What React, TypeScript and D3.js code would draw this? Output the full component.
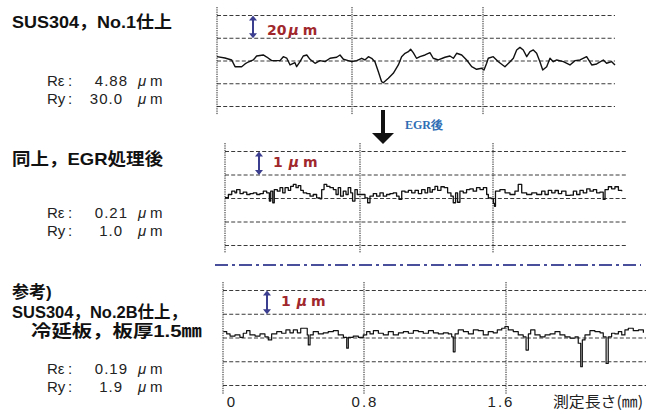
import React from "react";
import * as d3 from "d3";

// ---------- data ----------
const xTicks = [0, 0.8, 1.6];
const xTickLabels = ["0", "0.8", "1.6"];
const xAxisTitle = "測定長さ(㎜)";

const titles1 = ["SUS304，No.1仕上"];
const titles2 = ["同上，EGR処理後"];
const titles3 = ["参考)", "SUS304，No.2B仕上，", "冷延板，板厚1.5㎜"];

const raValues = ["4.88", "0.21", "0.19"];
const ryValues = ["30.0", "1.0", "1.9"];
const scaleSteps = [20, 1, 1];
const scaleLabels = ["20", "1", "1"];

// profile: [position mm, height µm]
const profile1: [number, number][] = [
  [0, 3.8], [0.047, 2.6], [0.087, 0.9], [0.107, -5.0], [0.146, -5.0], [0.166, -2.6], [0.185, -0.9],
  [0.215, 0.9], [0.235, 4.4], [0.274, 5.3], [0.295, 3.5], [0.324, 0.3], [0.373, 0.3], [0.393, 3.8],
  [0.413, 2.6], [0.433, -3.5], [0.462, -1.5], [0.472, -5.0], [0.492, -0.6], [0.511, 4.4], [0.532, 5.3],
  [0.551, 1.5], [0.581, -2.0], [0.61, 0.3], [0.64, -0.6], [0.67, 2.4], [0.709, 3.3], [0.729, 5.3],
  [0.749, 1.5], [0.778, 0.3], [0.798, -0.6], [0.829, 0.3], [0.859, 2.4], [0.879, 0.9], [0.9, 3.8],
  [0.92, 2.4], [0.94, -0.6], [0.961, -9.4], [0.981, -18.2], [0.991, -19.1], [1.022, -15.2],
  [1.052, -10.8], [1.083, -3.5], [1.103, 3.8], [1.124, 6.8], [1.144, 8.2], [1.158, 10.3], [1.174, 7.3],
  [1.194, 2.4], [1.215, 3.8], [1.246, 5.3], [1.276, 7.3], [1.296, 2.4], [1.327, 0.9], [1.368, 3.3],
  [1.398, 4.4], [1.419, 2.4], [1.439, 6.8], [1.47, 5.3], [1.5, 0.9], [1.531, -5.0], [1.561, -7.3],
  [1.592, -6.4], [1.606, -7.9], [1.622, -2.0], [1.632, 2.4], [1.662, 3.8], [1.693, -0.6], [1.733, -5.0],
  [1.764, -0.6], [1.784, 2.4], [1.804, 9.7], [1.824, 12.0], [1.844, 9.7], [1.865, 3.8], [1.885, 8.2],
  [1.905, 9.7], [1.925, 6.8], [1.945, -0.6], [1.962, -7.9], [1.986, -5.0], [2.006, 2.4], [2.026, -0.6],
  [2.047, 0.9], [2.087, -0.6], [2.127, -3.5], [2.158, 0.3], [2.188, 0.9], [2.228, 3.8], [2.259, -3.5],
  [2.289, -2.6], [2.329, 0.9], [2.349, -2.0], [2.38, -0.6], [2.4, -3.5],
];

const profile2: [number, number][] = [
  [0, 0.04], [0.02, 0.17], [0.04, 0.31], [0.059, 0.24], [0.069, 0.38], [0.089, 0.21], [0.108, 0.27],
  [0.129, 0.17], [0.148, 0.21], [0.168, 0.24], [0.188, 0.17], [0.207, 0.21], [0.227, 0.31], [0.247, 0.24],
  [0.263, -0.11], [0.271, 0.31], [0.283, -0.18], [0.292, 0.38], [0.31, 0.31], [0.326, 0.46], [0.342, 0.24],
  [0.356, 0.46], [0.375, 0.35], [0.389, 0.52], [0.405, 0.6], [0.421, 0.46], [0.434, 0.55], [0.449, 0.35],
  [0.464, 0.24], [0.484, 0.21], [0.504, 0.1], [0.523, 0.17], [0.543, 0.03], [0.563, -0.01], [0.573, 0.38],
  [0.587, 0.6], [0.603, 0.52], [0.622, 0.46], [0.642, 0.38], [0.658, 0.17], [0.671, 0.46], [0.685, 0.1],
  [0.701, 0.31], [0.717, 0.17], [0.73, 0.46], [0.745, 0.24], [0.756, -0.11], [0.77, 0.38], [0.784, 0.17],
  [0.8, 0.17], [0.81, 0.17], [0.83, 0.03], [0.846, -0.18], [0.86, 0.1], [0.88, 0.21], [0.9, 0.1],
  [0.92, 0.24], [0.94, 0.1], [0.96, 0.17], [0.98, 0.21], [1.0, 0.24], [1.02, 0.1], [1.035, -0.04],
  [1.051, 0.31], [1.071, 0.27], [1.091, 0.35], [1.111, 0.24], [1.131, 0.35], [1.151, 0.21], [1.171, 0.38],
  [1.191, 0.24], [1.207, 0.46], [1.221, 0.27], [1.235, 0.38], [1.251, 0.52], [1.267, 0.35], [1.287, 0.5],
  [1.307, 0.46], [1.327, 0.24], [1.347, 0.1], [1.361, -0.18], [1.375, 0.24], [1.387, -0.16], [1.401, 0.31],
  [1.421, 0.24], [1.441, 0.38], [1.461, 0.41], [1.481, 0.31], [1.501, 0.46], [1.522, 0.38], [1.542, 0.46],
  [1.562, 0.17], [1.572, 0.03], [1.588, 0.0], [1.602, -0.21], [1.609, -0.33], [1.615, 0.31], [1.642, 0.38],
  [1.673, 0.24], [1.703, 0.17], [1.733, 0.31], [1.753, 0.6], [1.774, 0.24], [1.804, 0.17], [1.835, 0.24],
  [1.865, 0.17], [1.895, 0.31], [1.915, 0.17], [1.935, 0.35], [1.956, 0.24], [1.976, 0.34], [1.996, 0.21],
  [2.016, 0.31], [2.042, 0.13], [2.067, 0.14], [2.087, 0.31], [2.107, 0.17], [2.127, 0.35], [2.147, 0.24],
  [2.168, 0.41], [2.188, 0.31], [2.208, 0.38], [2.228, 0.24], [2.248, 0.27], [2.268, -0.04], [2.279, 0.38],
  [2.299, 0.5], [2.319, 0.41], [2.339, 0.5], [2.36, 0.35], [2.38, 0.31],
];

const profile3: [number, number][] = [
  [0.002, 0.27], [0.021, 0.17], [0.04, 0.08], [0.068, 0.13], [0.096, 0.03], [0.115, 0.2], [0.134, 0.31],
  [0.153, 0.13], [0.182, 0.08], [0.21, 0.17], [0.238, 0.05], [0.257, -0.08], [0.276, 0.17], [0.305, 0.27],
  [0.333, 0.2], [0.357, 0.34], [0.38, 0.22], [0.399, 0.34], [0.422, 0.22], [0.441, 0.41], [0.465, 0.41],
  [0.478, 0.13], [0.484, -0.29], [0.494, 0.13], [0.512, 0.27], [0.541, 0.17], [0.569, 0.22], [0.597, 0.27],
  [0.626, 0.31], [0.654, 0.13], [0.683, 0.03], [0.702, -0.43], [0.711, 0.03], [0.739, 0.08], [0.768, 0.03],
  [0.796, 0.13], [0.815, 0.27], [0.834, 0.17], [0.853, 0.31], [0.881, 0.2], [0.909, 0.13], [0.937, 0.27],
  [0.965, 0.13], [0.994, 0.22], [1.022, 0.27], [1.05, 0.2], [1.078, 0.31], [1.106, 0.27], [1.134, 0.2],
  [1.163, 0.31], [1.191, 0.22], [1.219, 0.17], [1.247, 0.22], [1.275, 0.17], [1.294, 0.05], [1.303, -0.58],
  [1.313, 0.17], [1.331, 0.34], [1.36, 0.27], [1.388, 0.17], [1.416, 0.34], [1.444, 0.31], [1.472, 0.13],
  [1.5, 0.27], [1.528, 0.22], [1.551, 0.34], [1.576, 0.41], [1.594, 0.48], [1.613, 0.34], [1.641, 0.27],
  [1.669, 0.13], [1.697, 0.05], [1.713, -0.51], [1.726, 0.17], [1.739, 0.34], [1.763, 0.13], [1.792, 0.05],
  [1.82, 0.13], [1.848, 0.17], [1.876, 0.27], [1.904, 0.13], [1.932, 0.05], [1.961, -0.01], [1.989, 0.05],
  [2.007, -0.22], [2.021, -1.21], [2.03, -0.08], [2.045, 0.13], [2.073, 0.31], [2.101, 0.27], [2.13, 0.22],
  [2.148, 0.05], [2.164, -1.07], [2.176, 0.05], [2.195, 0.2], [2.214, 0.17], [2.233, 0.27], [2.252, 0.13],
  [2.27, 0.34], [2.289, 0.41], [2.317, 0.31], [2.346, 0.34], [2.374, 0.22],
];

// ---------- layout ----------
const W = 646;
const H = 414;
const JP = "'Noto Sans CJK JP', 'Noto Sans', sans-serif";
const TITLEF = "'Liberation Sans', 'Noto Sans CJK JP', sans-serif";
const ROWF = "'Liberation Sans', 'DejaVu Sans', sans-serif";
const NAVY = "#3b3d8e";
const RED = "#a0282d";

type PanelCfg = {
  xr: number[];
  gridRight: number;
  yCenter: number;
  ySpacing: number;
  vTop: number;
  vBottom: number;
  arrowX: number;
  labelBase: number;
  titleBase: number[];
  titleX: number[];
  titleLen: (number | null)[];
  rowBase: number[];
  curve: any;
  strokeW: number;
};

const panels: PanelCfg[] = [
  {
    xr: [217, 352, 483, 615], gridRight: 615, yCenter: 61, ySpacing: 22.75,
    vTop: 7, vBottom: 115, arrowX: 253, labelBase: 34.5,
    titleBase: [28], titleX: [12], titleLen: [160], rowBase: [86, 104],
    curve: d3.curveLinear, strokeW: 1.4,
  },
  {
    xr: [225, 360, 493, 625], gridRight: 626, yCenter: 198.5, ySpacing: 23.5,
    vTop: 143, vBottom: 253, arrowX: 259, labelBase: 166.5,
    titleBase: [165], titleX: [12], titleLen: [151], rowBase: [218, 235.5],
    curve: d3.curveStepAfter, strokeW: 1.3,
  },
  {
    xr: [223, 364, 506, 648], gridRight: 646, yCenter: 338, ySpacing: 23.75,
    vTop: 282, vBottom: 394, arrowX: 267, labelBase: 306,
    titleBase: [298, 317.5, 337], titleX: [12, 12, 31], titleLen: [null, 175, 171], rowBase: [374, 392],
    curve: d3.curveStepAfter, strokeW: 1.2,
  },
];
const panelTitles = [titles1, titles2, titles3];
const profiles = [profile1, profile2, profile3];

function Panel({ cfg, i }: { cfg: PanelCfg; i: number }) {
  const step = scaleSteps[i];
  const xs = d3.scaleLinear().domain([0, 0.8, 1.6, 2.4]).range(cfg.xr);
  const ys = d3
    .scaleLinear()
    .domain([-2 * step, 2 * step])
    .range([cfg.yCenter + 2 * cfg.ySpacing, cfg.yCenter - 2 * cfg.ySpacing]);
  const grid = [-2, -1, 0, 1, 2].map((k) => k * step);
  const line = d3
    .line<[number, number]>()
    .x((d) => xs(d[0]))
    .y((d) => ys(d[1]))
    .curve(cfg.curve);
  const ax = cfg.arrowX;
  const yA = ys(2 * step);
  const yB = ys(step);
  return (
    <g>
      {grid.map((g, k) => (
        <line
          key={"h" + k}
          x1={xs(0)}
          x2={cfg.gridRight}
          y1={ys(g)}
          y2={ys(g)}
          stroke="#3a3a3a"
          strokeWidth={1}
          strokeDasharray="4 2.2"
        />
      ))}
      {xTicks.map((t, k) => (
        <line
          key={"v" + k}
          x1={xs(t)}
          x2={xs(t)}
          y1={cfg.vTop}
          y2={cfg.vBottom}
          stroke="#222"
          strokeWidth={1}
          strokeDasharray="1.3 1"
        />
      ))}
      <path d={line(profiles[i]) || ""} fill="none" stroke="#111" strokeWidth={cfg.strokeW} strokeLinejoin="round" />
      {/* scale bar */}
      <line x1={ax} x2={ax} y1={yA + 3} y2={yB - 3} stroke={NAVY} strokeWidth={2} />
      <path d={`M${ax - 4},${yA + 5} L${ax + 4},${yA + 5} L${ax},${yA} Z`} fill={NAVY} />
      <path d={`M${ax - 4},${yB - 5} L${ax + 4},${yB - 5} L${ax},${yB} Z`} fill={NAVY} />
      <text x={ax + 14} y={cfg.labelBase} fill={RED} fontFamily="'DejaVu Sans', sans-serif" fontWeight={700} fontSize={14}>
        {scaleLabels[i]}
        <tspan dx={i === 0 ? 2 : 6} fontStyle="italic">μ</tspan>
        <tspan dx={4}>m</tspan>
      </text>
      {/* titles */}
      {panelTitles[i].map((t, k) => (
        <text
          key={"t" + k}
          x={cfg.titleX[k]}
          y={cfg.titleBase[k]}
          fontFamily={TITLEF}
          fontWeight={700}
          fontSize={17}
          fill="#111"
          {...(cfg.titleLen[k] ? { textLength: cfg.titleLen[k] as number, lengthAdjust: "spacingAndGlyphs" } : {})}
        >
          {t}
        </text>
      ))}
      {/* roughness rows */}
      {[
        ["Rε", raValues[i], 128],
        ["Ry", ryValues[i], 123],
      ].map((r, k) => (
        <g key={"r" + k} fontFamily={ROWF} fontSize={15} fill="#222">
          <text x={47} y={cfg.rowBase[k]}>{r[0]}</text>
          <text x={68} y={cfg.rowBase[k]}>:</text>
          <text x={r[2] as number} y={cfg.rowBase[k]} textAnchor="end" letterSpacing={1}>{r[1]}</text>
          <text x={138} y={cfg.rowBase[k]} fontStyle="italic">μ</text>
          <text x={150} y={cfg.rowBase[k]}>m</text>
        </g>
      ))}
    </g>
  );
}

export default function App() {
  const labelScale = d3.scaleLinear().domain([0, 0.8, 1.6]).range([231, 365, 501]);
  return (
    <svg
      width={W}
      height={H}
      viewBox={`0 0 ${W} ${H}`}
      style={{ position: "absolute", left: 0, top: 0, background: "#fff" }}
    >
      <rect x={0} y={0} width={W} height={H} fill="#fff" />
      {panels.map((p, i) => (
        <Panel key={i} cfg={p} i={i} />
      ))}
      {/* down arrow */}
      <line x1={383} x2={383} y1={110} y2={134} stroke="#111" strokeWidth={4} />
      <path d="M372,133 L394,133 L383,144 Z" fill="#111" />
      <text x={405} y={128.5} fill="#2e6db4" fontFamily="'Liberation Serif', serif" fontWeight={700} fontSize={12}>
        EGR後
      </text>
      {/* separator */}
      <line x1={215} x2={641} y1={265} y2={265} stroke="#4a4f9c" strokeWidth={2} strokeDasharray="13 4 3 4" />
      {/* bottom axis labels */}
      {xTickLabels.map((t, k) => (
        <text
          key={"xl" + k}
          x={labelScale(xTicks[k])}
          y={407}
          textAnchor="middle"
          fontFamily={ROWF}
          fontSize={15}
          fill="#222"
          letterSpacing={t.length > 1 ? 2 : 0}
        >
          {t}
        </text>
      ))}
      <text x={553} y={407} fontFamily={JP} fontSize={15} fill="#222" textLength={90} lengthAdjust="spacingAndGlyphs">
        {xAxisTitle}
      </text>
    </svg>
  );
}
